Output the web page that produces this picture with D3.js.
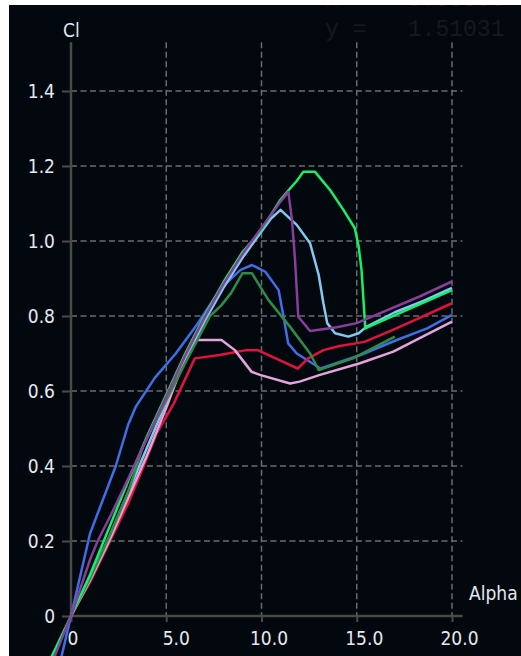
<!DOCTYPE html>
<html>
<head>
<meta charset="utf-8">
<script src="https://cdn.jsdelivr.net/npm/d3@7/dist/d3.min.js"></script>
<style>
  html, body { margin: 0; padding: 0; background: #ffffff; }
  svg { display: block; }
  .lbl { font-family: "DejaVu Sans Condensed", "Liberation Sans", Arial, sans-serif; font-size: 19px; fill: #e4e9ef; }
  .readout { font-family: "Liberation Mono", "DejaVu Sans Mono", monospace; font-size: 23px; fill: #17191b; white-space: pre; }
</style>
</head>
<body>
<script>
// Polar: lift coefficient Cl versus angle of attack Alpha, one curve per run
const xTickValues = [0, 5, 10, 15, 20];
const xTickLabels = ["0", "5.0", "10.0", "15.0", "20.0"];
const yTickValues = [0, 0.2, 0.4, 0.6, 0.8, 1.0, 1.2, 1.4];
const yTickLabels = ["0", "0.2", "0.4", "0.6", "0.8", "1.0", "1.2", "1.4"];
const xTitle = "Alpha";
const yTitle = "Cl";
const readoutX = "x =   3.55556";
const readoutY = "y =   1.51031";

const blueAlpha = [-0.6, 0, 1.0, 2.35, 3.0, 3.4, 4.4, 5.5, 6.6, 7.5, 8.2, 8.9, 9.5, 10.2, 10.9, 11.15, 11.4, 11.85, 13.1, 15.2, 17.1, 18.7, 20];
const blueCl    = [-0.13, 0, 0.22, 0.40, 0.51, 0.558, 0.635, 0.70, 0.776, 0.845, 0.89, 0.923, 0.936, 0.918, 0.869, 0.80, 0.727, 0.70, 0.66, 0.696, 0.736, 0.767, 0.803];

const lightBlueAlpha = [0, 1, 2, 3, 4, 5, 6, 7, 8, 9, 10, 10.5, 11, 11.85, 12.55, 13.0, 13.25, 13.45, 13.86, 14.56, 15.1, 15.5, 17, 18.5, 20];
const lightBlueCl    = [0, 0.10, 0.21, 0.33, 0.45, 0.57, 0.68, 0.785, 0.875, 0.955, 1.025, 1.06, 1.083, 1.043, 0.994, 0.91, 0.834, 0.781, 0.754, 0.745, 0.754, 0.771, 0.81, 0.84, 0.875];

const redAlpha = [0, 1, 2, 3, 3.8, 4.5, 5.4, 6.5, 7.8, 9.2, 9.8, 11.9, 12.45, 13.25, 14.1, 15.4, 16.9, 20];
const redCl    = [0, 0.09, 0.195, 0.30, 0.398, 0.487, 0.567, 0.687, 0.696, 0.709, 0.709, 0.66, 0.687, 0.709, 0.72, 0.731, 0.763, 0.834];

const pinkAlpha = [0, 1, 2, 3, 4, 5, 6.07, 6.3, 6.42, 7.9, 8.6, 9.48, 9.92, 11.5, 12.0, 13.07, 15.17, 16.92, 20];
const pinkCl    = [0, 0.095, 0.20, 0.315, 0.43, 0.555, 0.70, 0.727, 0.736, 0.736, 0.709, 0.651, 0.643, 0.62, 0.625, 0.643, 0.674, 0.705, 0.785];

const darkGreenAlpha = [0, 1, 2, 3, 3.8, 5, 6, 7.3, 7.9, 8.4, 9.0, 9.5, 10.36, 11.5, 12.55, 13.0, 14.8, 17.0];
const darkGreenCl    = [0, 0.10, 0.21, 0.33, 0.455, 0.575, 0.675, 0.80, 0.829, 0.861, 0.914, 0.914, 0.843, 0.771, 0.70, 0.656, 0.687, 0.745];

const greenAlpha = [-1.5, 0, 1, 2, 3, 4, 5, 6, 7, 8, 9, 10, 11, 11.5, 11.85, 12.2, 12.8, 13.6, 14.3, 14.9, 15.1, 15.25, 15.45, 16, 17.4, 20];
const greenCl    = [-0.16, 0, 0.11, 0.235, 0.36, 0.48, 0.59, 0.70, 0.80, 0.89, 0.97, 1.03, 1.11, 1.14, 1.16, 1.185, 1.185, 1.136, 1.083, 1.034, 0.985, 0.923, 0.767, 0.78, 0.811, 0.869];

const purpleAlpha = [-1.2, 0, 1, 1.4, 2.1, 2.9, 4, 5, 6, 7, 8, 9, 10, 11, 11.41, 11.6, 11.76, 11.93, 12.55, 13.95, 15, 16.2, 18.3, 20];
const purpleCl    = [-0.15, 0, 0.15, 0.20, 0.27, 0.355, 0.475, 0.585, 0.695, 0.795, 0.885, 0.965, 1.035, 1.105, 1.131, 1.056, 0.95, 0.798, 0.76, 0.77, 0.781, 0.807, 0.852, 0.892];

const seriesAlpha  = [blueAlpha, lightBlueAlpha, redAlpha, pinkAlpha, darkGreenAlpha, greenAlpha, purpleAlpha];
const seriesCl     = [blueCl, lightBlueCl, redCl, pinkCl, darkGreenCl, greenCl, purpleCl];
const seriesColors = ["#3f6ee6", "#84c9f2", "#e2123f", "#e6a3dc", "#2f8c46", "#12f06c", "#8a3d9a"];

const W = 521, H = 656;
const svg = d3.select("body").append("svg").attr("width", W).attr("height", H);

// white frame with the dark plotting panel inside
svg.append("rect").attr("width", W).attr("height", H).attr("fill", "#ffffff");
const panel = { x: 9, y: 5, w: W - 9, h: H - 5 };
svg.append("clipPath").attr("id", "panelClip")
  .append("rect").attr("x", panel.x).attr("y", panel.y).attr("width", panel.w).attr("height", panel.h);
const g = svg.append("g").attr("clip-path", "url(#panelClip)");
g.append("rect").attr("x", panel.x).attr("y", panel.y).attr("width", panel.w).attr("height", panel.h).attr("fill", "#02080e");

const x = d3.scaleLinear().domain([0, 20]).range([71, 452]);
const y = d3.scaleLinear().domain([0, 1.4]).range([616, 91]);
const xEnd = 20.55, yEnd = 1.53;

// cursor readout (the upper line runs off the top of the panel)
g.append("text").attr("class", "readout").attr("x", 325).attr("y", 6).text(readoutX);
g.append("text").attr("class", "readout").attr("x", 325).attr("y", 36).text(readoutY);

// dashed grid
const grid = g.append("g").attr("stroke", "#6b6b6b").attr("stroke-width", 1.5).attr("stroke-dasharray", "6,3.5");
grid.selectAll("line.h").data(yTickValues.filter(v => v !== 0)).join("line")
  .attr("x1", x(0)).attr("x2", x(xEnd)).attr("y1", d => y(d)).attr("y2", d => y(d));
grid.selectAll("line.v").data(xTickValues.filter(v => v !== 0)).join("line")
  .attr("x1", d => x(d)).attr("x2", d => x(d)).attr("y1", y(yEnd)).attr("y2", y(0));

// axes
const axisColor = "#4a4a4a";
const yAxis = g.append("g").attr("transform", `translate(${x(0)},0)`)
  .call(d3.axisLeft(y).tickValues(yTickValues).tickFormat((d, i) => yTickLabels[i]).tickSize(9).tickPadding(7).tickSizeOuter(0));
const xAxis = g.append("g").attr("transform", `translate(0,${y(0)})`)
  .call(d3.axisBottom(x).tickValues(xTickValues).tickFormat((d, i) => xTickLabels[i]).tickSize(6).tickSizeOuter(0));
[yAxis, xAxis].forEach(a => {
  a.select(".domain").remove();
  a.selectAll(".tick line").attr("stroke", axisColor).attr("stroke-width", 2);
  a.selectAll(".tick text").attr("class", "lbl").attr("fill", null);
});
// x tick labels start a little left of the tick, further for two-digit values
xAxis.selectAll(".tick text")
  .attr("text-anchor", "start")
  .attr("x", (d, i) => -4 - 8 * (xTickLabels[i].split(".")[0].length - 1))
  .attr("y", 29).attr("dy", 0);

g.append("line").attr("x1", x(0)).attr("x2", x(0)).attr("y1", y(yEnd)).attr("y2", y(0))
  .attr("stroke", axisColor).attr("stroke-width", 2.5);
g.append("line").attr("x1", x(0) - 1).attr("x2", x(xEnd)).attr("y1", y(0)).attr("y2", y(0))
  .attr("stroke", axisColor).attr("stroke-width", 2.5);

// axis titles
g.append("text").attr("class", "lbl").attr("x", 63).attr("y", 37).style("fill", "#dfe9f6").text(yTitle);
g.append("text").attr("class", "lbl").attr("x", 469).attr("y", 600).text(xTitle);

// curves
const line = d3.line().x(d => x(d[0])).y(d => y(d[1]));
seriesAlpha.forEach((alphas, i) => {
  const pts = alphas.map((a, j) => [a, seriesCl[i][j]]);
  g.append("path").datum(pts).attr("d", line)
    .attr("fill", "none").attr("stroke", seriesColors[i]).attr("stroke-width", 2.5)
    .attr("stroke-linejoin", "round");
});
</script>
</body>
</html>
